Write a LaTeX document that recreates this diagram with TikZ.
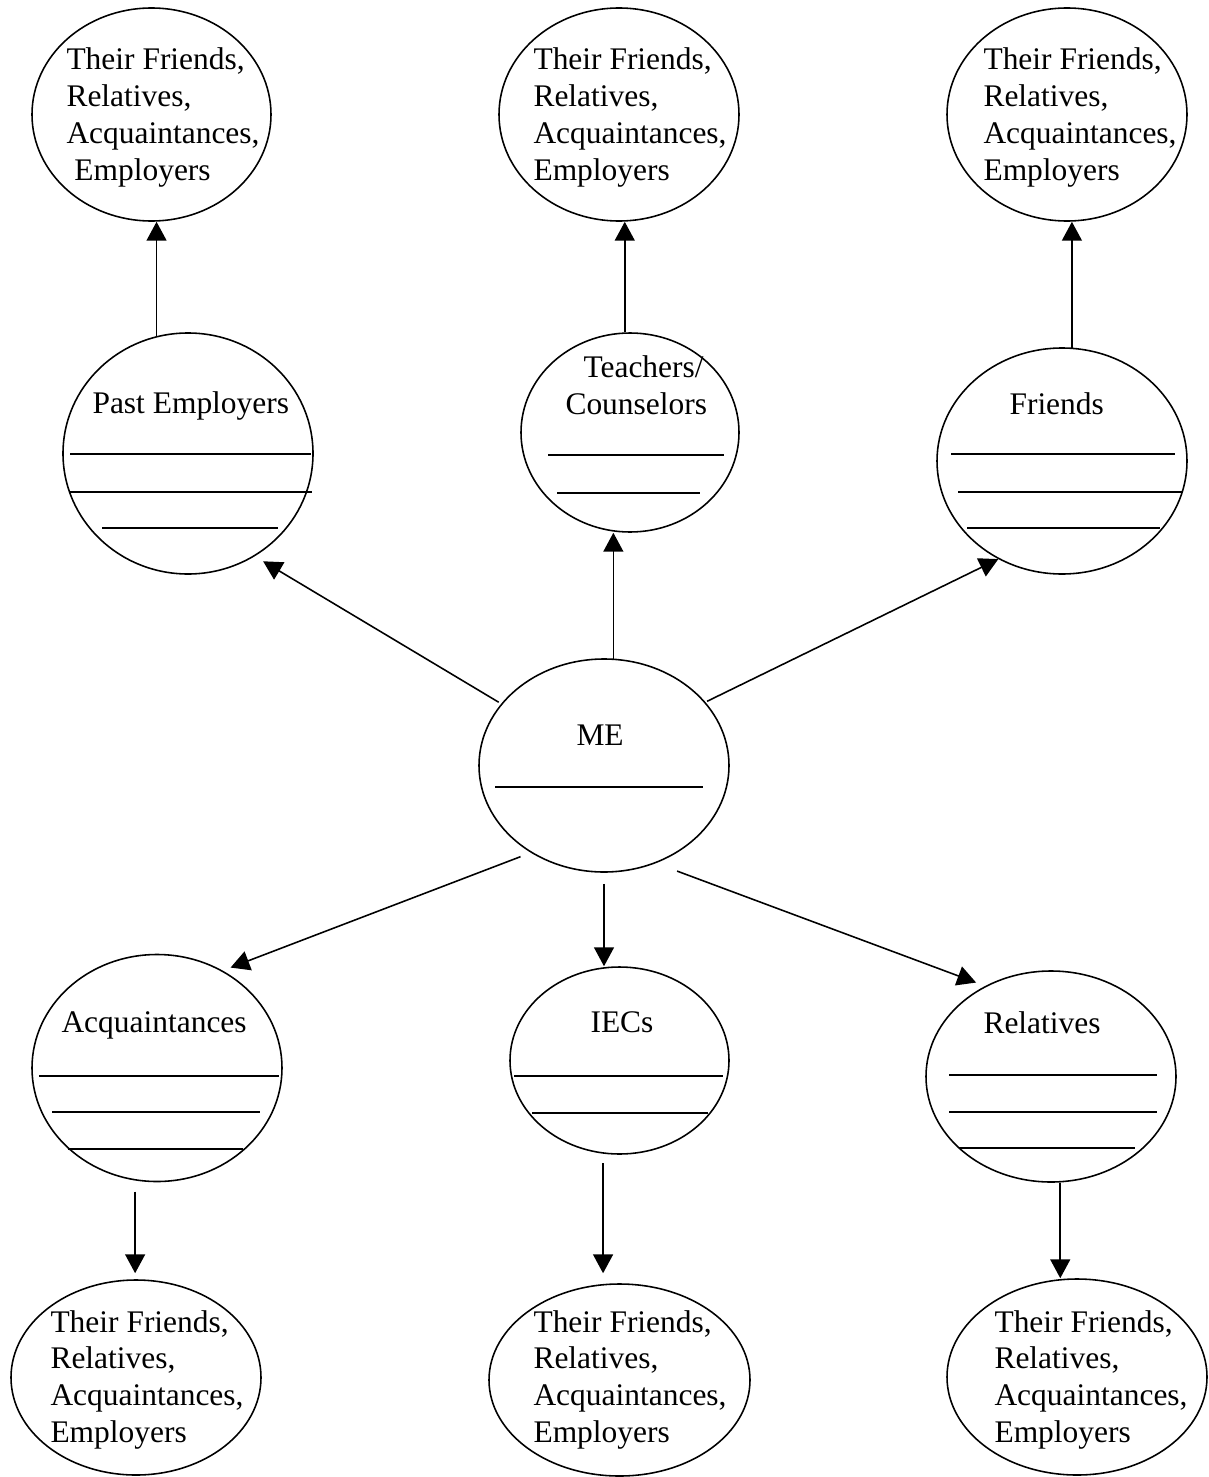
\documentclass[tikz,border=0pt]{standalone}
\usepackage{fontspec}
\setmainfont{Liberation Serif}
\usetikzlibrary{shapes,arrows.meta,positioning}

\tikzset{
  bubble/.style 2 args={draw, ellipse, inner sep=0pt, line width=0.6pt,
    minimum width=#1*0.3815pt, minimum height=#2*0.3815pt},
  words/.style={inner sep=0pt, anchor=base west, font=\fontsize{12}{14}\selectfont},
  link/.style={-{Triangle[length=7.2pt,width=7.6pt]}, line width=0.6pt},
  blank/.style={line width=0.6pt}
}

\begin{document}
\begin{tikzpicture}[x=0.3815pt, y=-0.3815pt]
\useasboundingbox (0,0) rectangle (1209,1477);
% Top row: their friends etc.
\node[bubble={239}{213}] (tl) at (151.5,114.5) {};
\node[bubble={240}{213}] (tm) at (619,114.5) {};
\node[bubble={240}{213}] (tr) at (1067,114.5) {};
\node[words] (tl-txt) at (66,70) {\begin{tabular}[t]{@{}l@{}}Their Friends,\\ Relatives,\\ Acquaintances,\\ \hspace*{0.25em}Employers\end{tabular}};
\node[words] (tm-txt) at (533,70) {\begin{tabular}[t]{@{}l@{}}Their Friends,\\ Relatives,\\ Acquaintances,\\ Employers\end{tabular}};
\node[words] (tr-txt) at (983,70) {\begin{tabular}[t]{@{}l@{}}Their Friends,\\ Relatives,\\ Acquaintances,\\ Employers\end{tabular}};
% Middle row
\node[bubble={250}{241}] (past) at (188,453.5) {};
\node[bubble={218}{199}] (teach) at (630,432.5) {};
\node[bubble={250}{226}] (friends) at (1062,461) {};
\node[words] (past-txt) at (92,413) {Past Employers};
\node[words] (teach-txt) at (583,377) {Teachers/};
\node[words] (couns-txt) at (565,414) {Counselors};
\node[words] (friends-txt) at (1009,414) {Friends};
\draw[blank] (70,454) -- (311,454);
\draw[blank] (70,492) -- (312,492);
\draw[blank] (102,528) -- (278,528);
\draw[blank] (548,455) -- (724,455);
\draw[blank] (557,493) -- (700,493);
\draw[blank] (951,454) -- (1175,454);
\draw[blank] (958,492) -- (1183,492);
\draw[blank] (967,528) -- (1160,528);
% Centre: ME
\node[bubble={250}{213}] (me) at (604,765.5) {};
\node[words] (me-txt) at (576,745) {ME};
\draw[blank] (495,787) -- (703,787);
% Lower row
\node[bubble={250}{227}] (acq) at (157,1068) {};
\node[bubble={219}{187}] (iecs) at (619.5,1060.5) {};
\node[bubble={250}{211}] (rel) at (1051,1076.5) {};
\node[words] (acq-txt) at (61,1032) {Acquaintances};
\node[words] (iecs-txt) at (590,1032) {IECs};
\node[words] (rel-txt) at (983,1033) {Relatives};
\draw[blank] (39,1076) -- (279,1076);
\draw[blank] (52,1112) -- (260,1112);
\draw[blank] (68,1149) -- (243,1149);
\draw[blank] (514,1076) -- (723,1076);
\draw[blank] (532,1113) -- (708,1113);
\draw[blank] (949,1075) -- (1157,1075);
\draw[blank] (949,1112) -- (1157,1112);
\draw[blank] (959,1148) -- (1135,1148);
% Bottom row
\node[bubble={250}{195}] (bl) at (136,1377.5) {};
\node[bubble={261}{192}] (bm) at (619.5,1380) {};
\node[bubble={260}{196}] (br) at (1077,1377) {};
\node[words] (bl-txt) at (50,1332) {\begin{tabular}[t]{@{}l@{}}Their Friends,\\ Relatives,\\ Acquaintances,\\ Employers\end{tabular}};
\node[words] (bm-txt) at (533,1332) {\begin{tabular}[t]{@{}l@{}}Their Friends,\\ Relatives,\\ Acquaintances,\\ Employers\end{tabular}};
\node[words] (br-txt) at (994,1332) {\begin{tabular}[t]{@{}l@{}}Their Friends,\\ Relatives,\\ Acquaintances,\\ Employers\end{tabular}};
% Arrows
\draw[link] (past.105) -- (past.105 |- tl.south);
\draw[link] (teach.93) -- (teach.93 |- tm.south);
\draw[link] (friends.85) -- (friends.85 |- tr.south);
\draw[link] (me.85) -- (me.85 |- teach.south);
\draw[link, shorten <=1.1pt, shorten >=3.7pt] (me.149) -- (past.303);
\draw[link, shorten <=0.7pt] (me.32) -- (friends.237);
\draw[link, shorten <=4.2pt, shorten >=3.2pt] (me.230) -- (acq.56);
\draw[link, shorten <=4.2pt] (me.south) -- (me.south |- iecs.north);
\draw[link, shorten <=8.6pt, shorten >=3.7pt] (me.298) -- (rel.126);
\draw[link, shorten <=4.2pt, shorten >=2.3pt] (acq.259) -- (acq.259 |- bl.north);
\draw[link, shorten <=3.6pt, shorten >=3.8pt] (iecs.260) -- (iecs.260 |- bm.north);
\draw[link] (rel.275) -- (rel.275 |- br.north);
\end{tikzpicture}
\end{document}
